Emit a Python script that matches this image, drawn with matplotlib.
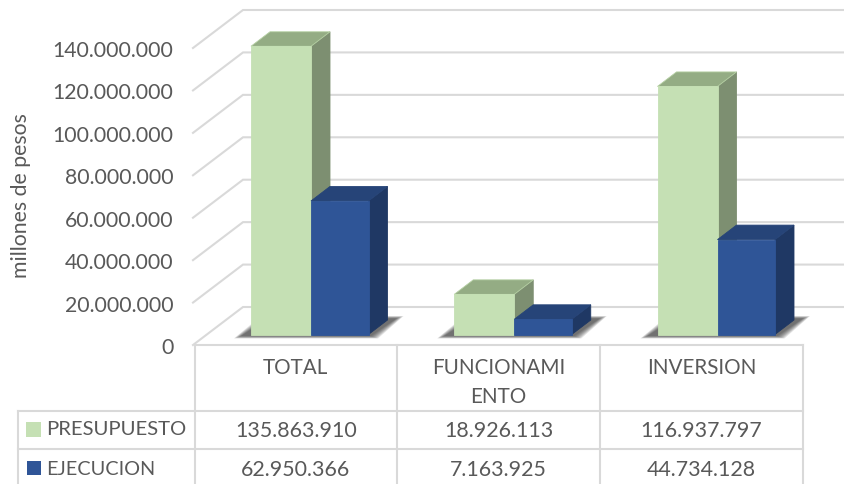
import matplotlib
matplotlib.use("Agg")
import matplotlib.pyplot as plt
from matplotlib.patches import Polygon, Rectangle
from matplotlib.lines import Line2D

categories = ["TOTAL", "FUNCIONAMI\nENTO", "INVERSION"]
series_names = ["PRESUPUESTO", "EJECUCION"]
presupuesto = [135863910, 18926113, 116937797]
ejecucion = [62950366, 7163925, 44734128]
y_ticks = [0, 20000000, 40000000, 60000000, 80000000, 100000000, 120000000, 140000000]
y_label = "millones de pesos"

W, H = 844, 485
TXT = "#595959"
GRID = "#d9d9d9"
plt.rcParams["font.family"] = ["Lato", "DejaVu Sans"]


def fmt(v):
    return f"{v:,}".replace(",", ".")


fig = plt.figure(figsize=(W / 100, H / 100), dpi=100, facecolor="white")

# pixel overlay for the data table
ov = fig.add_axes([0, 0, 1, 1], zorder=1)
ov.set_xlim(0, W)
ov.set_ylim(H, 0)
ov.axis("off")

# chart axes: left edge at px 193, value 0 at px 346
ax = fig.add_axes([193 / W, (H - 346) / H, (W - 193) / W, 346 / H], zorder=2)
ax.patch.set_alpha(0)
k = 140e6 / 297          # value per pixel
CW = 203.25              # pixels per category
X0 = 311                 # px of the first category's bar join
ax.set_xlim((193 - X0) / CW, (W - X0) / CW)
ax.set_ylim(0, 346 * k)
for s in ax.spines.values():
    s.set_visible(False)
ax.set_xticks([])
ax.set_yticks(y_ticks)
ax.set_yticklabels([fmt(t) for t in y_ticks], fontsize=15.3, color=TXT)
ax.tick_params(axis="y", length=0, pad=14)

# wall and floor gridlines
wall_dx, wall_dv = 50 / CW, 38 * k
xl = ax.get_xlim()
for t in y_ticks:
    ax.plot([xl[0], xl[0] + wall_dx, xl[1]], [t, t + wall_dv, t + wall_dv],
            color=GRID, lw=1.5, zorder=1, clip_on=False, solid_joinstyle="miter")

base = 10.5 * k
bw_g = 60 / CW
bw_b = 57.5 / CW
dx, dv = 19 / CW, 14.5 * k


def poly(pts, c, z, ec=None):
    ax.add_patch(Polygon(pts, closed=True, facecolor=c, edgecolor=ec or c,
                         lw=0.6, zorder=z, clip_on=False))


for i in range(len(categories)):
    # blurred floor shadow
    l, r = i - bw_g, i + bw_b + dx
    bot, top = base - 1.5 * k, base + 16 * k
    for n in range(8):
        g = 7 - n
        sx, sv = g / CW, g * 0.35 * k
        ax.add_patch(Polygon(
            [(l - 10 / CW - sx, bot - sv), (r - 16.5 / CW + sx, bot - sv),
             (r + 9 / CW + sx, top + sv), (l + 17 / CW - sx, top + sv)],
            closed=True, facecolor="#303030", edgecolor="none", alpha=0.13,
            zorder=2, clip_on=False))

    p, e = presupuesto[i], ejecucion[i]
    z = 3 + i * 10
    # presupuesto: side, top, front
    poly([(i, base), (i + dx, base + dv), (i + dx, base + p + dv), (i, base + p)], "#7d8f71", z)
    poly([(i - bw_g, base + p), (i - bw_g + dx, base + p + dv),
          (i + dx, base + p + dv), (i, base + p)], "#94ac84", z + 1, "#b5d0a3")
    poly([(i - bw_g, base), (i, base), (i, base + p), (i - bw_g, base + p)], "#c5e0b4", z + 2)
    # ejecucion: side, top, front
    poly([(i + bw_b, base), (i + bw_b + dx, base + dv), (i + bw_b + dx, base + e + dv),
          (i + bw_b, base + e)], "#1f3864", z + 3)
    poly([(i, base + e), (i + dx, base + e + dv), (i + bw_b + dx, base + e + dv),
          (i + bw_b, base + e)], "#264478", z + 4)
    poly([(i, base), (i + bw_b, base), (i + bw_b, base + e), (i, base + e)], "#2f5597", z + 5)

ax.text(21.5, 195.5, y_label, transform=ov.transData, rotation=90, fontsize=15.3, color=TXT,
        ha="center", va="center")

# data table
cols = [194.5, 397, 600, 803]
for x in cols:
    ov.add_line(Line2D([x, x], [346, H], color=GRID, lw=1.5))
ov.add_line(Line2D([18, 18], [412, H], color=GRID, lw=1.5))
ov.add_line(Line2D([194.5, 803], [346, 346], color=GRID, lw=1.5))
ov.add_line(Line2D([18, 803], [412, 412], color=GRID, lw=1.5))
ov.add_line(Line2D([18, 803], [450, 450], color=GRID, lw=1.5))

cx = [(cols[i] + cols[i + 1]) / 2 for i in range(3)]
for i, name in enumerate(categories):
    for j, part in enumerate(name.split("\n")):
        ov.text(cx[i], 368.5 + 29 * j, part, fontsize=14.9, color=TXT, ha="center", va="center")
    ov.text(cx[i], 431.5, fmt(presupuesto[i]), fontsize=15.4, color=TXT, ha="center", va="center")
    ov.text(cx[i], 470, fmt(ejecucion[i]), fontsize=15.4, color=TXT, ha="center", va="center")

ov.add_patch(Rectangle((26, 423), 15, 14.5, facecolor="#c5e0b4", edgecolor="none"))
ov.add_patch(Rectangle((27, 462), 14, 14, facecolor="#2f5597", edgecolor="none"))
ov.text(46.5, 430, series_names[0], fontsize=14.6, color=TXT, ha="left", va="center")
ov.text(46.5, 469.5, series_names[1], fontsize=14.3, color=TXT, ha="left", va="center")

fig.savefig("out.png", dpi=100, facecolor="white")
